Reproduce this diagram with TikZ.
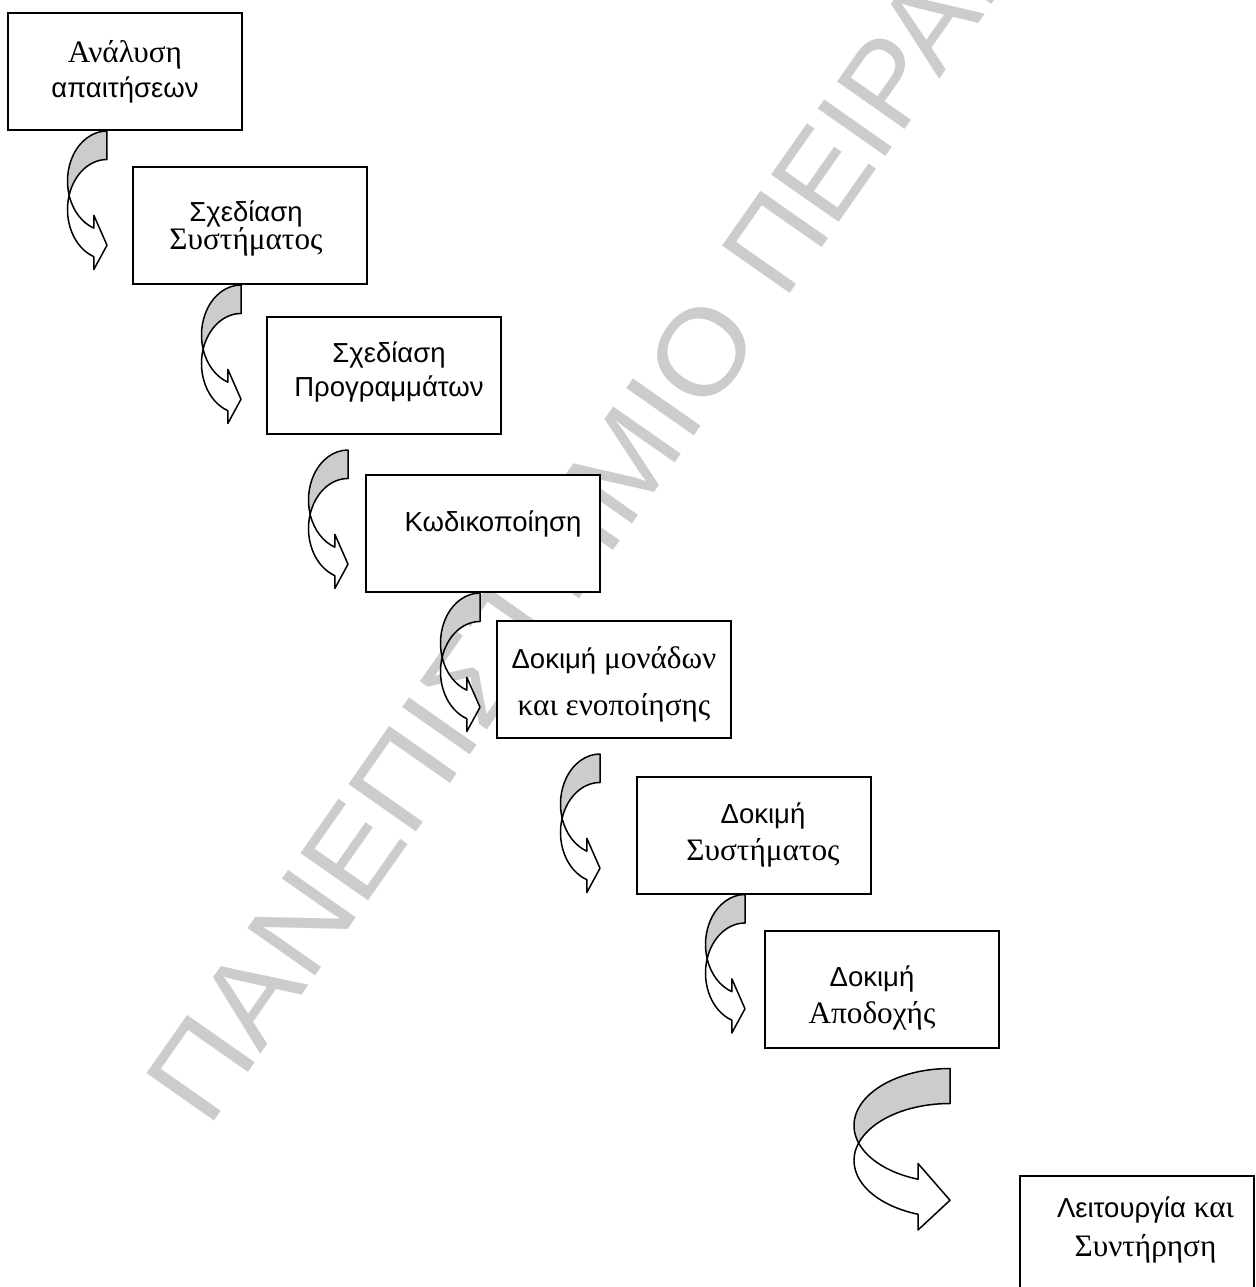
\documentclass[tikz,border=0pt]{standalone}
\usepackage{fontspec}
\setmainfont{Liberation Serif}
\setsansfont{Liberation Sans}
\usepackage{tikz}
\usetikzlibrary{calc}
\tikzset{
  stage/.style   ={rectangle, draw=black, fill=white, line width=0.8pt,
                   minimum width=93.6pt, minimum height=46.8pt, inner sep=0pt},
  txt/.style     ={anchor=base, inner sep=0pt, font=\fontsize{12.5pt}{14pt}\selectfont},
  wmark/.style   ={anchor=base west, inner sep=0pt, rotate=55, text=black!20,
                   font=\sffamily\fontsize{48pt}{48pt}\selectfont},
  arrback/.style ={draw=black, fill=black!20, line width=0.6pt, line join=round},
  arrfront/.style={draw=black, fill=white, line width=0.6pt, line join=round},
}
\newcommand{\sw}[1]{{\sffamily\fontsize{11pt}{13pt}\selectfont #1}}
\newcommand{\twoline}[3]{\vtop{\baselineskip=#1\lineskiplimit=-\maxdimen
  \halign{\hfil##\hfil\cr#2\cr#3\cr}}}
% curved block arrow: #1 top corner, #2 x radius, #3 y radius, #4 band width
\newcommand{\bendarrow}[4]{%
  \pgfmathsetmacro\bendal{asin(#4/(2*#3))}%
  \pgfmathsetmacro\bendbe{acos(1/3)}%
  \begin{scope}[shift={#1}]
    \filldraw[arrback] (0,0)
      arc[start angle=90, end angle=180+\bendal, x radius=#2*0.4pt, y radius=#3*0.4pt]
      arc[start angle=180-\bendal, end angle=90, x radius=#2*0.4pt, y radius=#3*0.4pt]
      -- cycle;
    \filldraw[arrfront] ({-#2*cos(\bendal)},{#3+#4/2})
      arc[start angle=180+\bendal, end angle=180+\bendbe, x radius=#2*0.4pt, y radius=#3*0.4pt]
      -- ++(0,{-0.45*#4}) -- (0,{1.9428*#3+0.6*#4})
      -- ({-#2/3},{1.9428*#3+1.45*#4}) -- ({-#2/3},{1.9428*#3+#4})
      arc[start angle=180+\bendbe, end angle=180-\bendal, x radius=#2*0.4pt, y radius=#3*0.4pt]
      -- cycle;
  \end{scope}}

\begin{document}
\begin{tikzpicture}[x=0.4pt, y=-0.4pt]
  \useasboundingbox (0,0) rectangle (1255,1287);
  \clip (0,0) rectangle (1255,1287);
  % watermark
  \node[wmark, xscale=1.06] (wm1) at (208,1130) {ΠΑΝΕΠΙΣΤΗΜΙΟ};
  \node[wmark] (wm2) at (784,302) {ΠΕΙΡΑΙΑ};
  % stages
  \node[stage] (req)  at (125,71.5)    {};
  \node[stage] (sys)  at (250,225.5)   {};
  \node[stage] (prog) at (384,375.5)   {};
  \node[stage] (code) at (483,533.5)   {};
  \node[stage] (unit) at (614,679.5)   {};
  \node[stage] (systest) at (754,835)  {};
  \node[stage] (acc)  at (882,989)     {};
  \node[stage] (oper) at (1136.5,1234.5) {};
  % texts
  \node[txt] (reqtxt)  at ($(req.north)+(0,50)$)   {\twoline{14pt}{Ανάλυση}{\sw{απαιτήσεων}}};
  \node[txt] (systxt)  at ($(sys.north)+(-4,55)$)  {\twoline{11.2pt}{\sw{Σχεδίαση}}{Συστήματος}};
  \node[txt] (progtxt) at ($(prog.north)+(5,46)$)  {\twoline{13.6pt}{\sw{Σχεδίαση}}{\sw{Προγραμμάτων}}};
  \node[txt] (codetxt) at ($(code.north)+(10,57)$) {\sw{Κωδικοποίηση}};
  \node[txt] (unittxt) at ($(unit.north)+(0,48)$)  {\twoline{18.8pt}{\sw{Δοκιμή} μονάδων}{και ενοποίησης}};
  \node[txt] (systesttxt) at ($(systest.north)+(9,48)$) {\twoline{14.8pt}{\sw{Δοκιμή}}{Συστήματος}};
  \node[txt] (acctxt)  at ($(acc.north)+(-10,57)$) {\twoline{14.8pt}{\sw{Δοκιμή}}{Αποδοχής}};
  \node[txt] (opertxt) at ($(oper.north)+(9,42)$)  {\twoline{15.6pt}{\sw{Λειτουργία} και}{Συντήρηση}};
  % arrows
  \bendarrow{($(req.south west)+(100,0)$)}{39.5}{50}{28.5}
  \bendarrow{($(sys.south west)+(109,0)$)}{39.5}{50}{28.5}
  \bendarrow{($(prog.south west)+(82,15)$)}{39.5}{50}{28.5}
  \bendarrow{($(code.south west)+(115,0)$)}{39.5}{50}{28.5}
  \bendarrow{($(unit.south west)+(104,15)$)}{39.5}{50}{28.5}
  \bendarrow{($(systest.south west)+(109,0)$)}{39.5}{50}{28.5}
  \bendarrow{($(acc.south west)+(186,20)$)}{96}{57}{35}
\end{tikzpicture}
\end{document}
